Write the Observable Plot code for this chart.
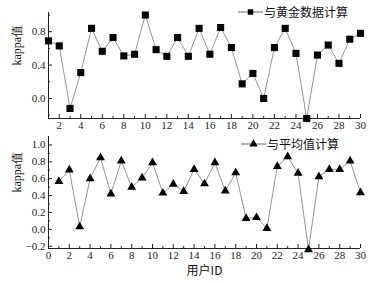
<!DOCTYPE html>
<html>
<head>
<meta charset="utf-8">
<script src="https://cdn.jsdelivr.net/npm/d3@7"></script>
<script src="https://cdn.jsdelivr.net/npm/@observablehq/plot@0.6"></script>
<style>
  html, body { margin: 0; padding: 0; background: #fff; }
  #wrap { position: relative; width: 382px; height: 283px; overflow: hidden; }
  #wrap > div > svg { display: block; }
  .legend { position: absolute; font-family: "Noto Sans CJK SC", sans-serif; font-size: 12px; color: #111; white-space: nowrap; line-height: 14px; height: 14px; display: flex; align-items: center; }
  .legend svg { display: inline-block; margin-right: 1px; }
</style>
</head>
<body>
<div id="wrap">
  <div id="top"></div>
  <div id="bottom"></div>
  <div class="legend" id="leg1" style="left:238px; top:5px;"></div>
  <div class="legend" id="leg2" style="left:241px; top:137px;"></div>
</div>
<script>
// ---- data ----
const userIds = d3.range(1, 31);
const goldKappa = [0.69, 0.63, -0.12, 0.31, 0.84, 0.565, 0.73, 0.51, 0.53, 1.0,
                   0.585, 0.505, 0.73, 0.505, 0.84, 0.53, 0.85, 0.61, 0.175, 0.30,
                   0.0, 0.61, 0.84, 0.54, -0.24, 0.52, 0.64, 0.42, 0.71, 0.78];
const meanKappa = [0.567, 0.705, 0.03, 0.60, 0.85, 0.42, 0.81, 0.50, 0.61, 0.79,
                   0.43, 0.535, 0.45, 0.71, 0.54, 0.79, 0.455, 0.67, 0.13, 0.14,
                   0.01, 0.745, 0.86, 0.665, -0.24, 0.625, 0.71, 0.71, 0.81, 0.435];
const seriesNames = ["与黄金数据计算", "与平均值计算"];
const yLabel = "kappa值";
const xTitle = "用户ID";
const topXMajor = d3.range(2, 31, 2);
const topXMinor = d3.range(1, 30, 2);
const topYMajor = [0.0, 0.4, 0.8];
const topYMinor = [-0.2, 0.2, 0.6, 1.0];
const botXMajor = d3.range(0, 31, 2);
const botXMinor = d3.range(1, 30, 2);
const botYMajor = [-0.2, 0.0, 0.2, 0.4, 0.6, 0.8, 1.0];
const botYMinor = [-0.1, 0.1, 0.3, 0.5, 0.7, 0.9];

const topData = userIds.map((id, i) => ({id, v: goldKappa[i]}));
const botData = userIds.map((id, i) => ({id, v: meanKappa[i]}));

const serif = "'Liberation Serif', 'Times New Roman', serif";
const lineColor = "#777";

function panel({data, height, marginTop, marginBottom, xDomain, yDomain, xMajor, xMinor, yMajor, yMinor, symbol, r, xLabel}) {
  const fmtY = d => d.toFixed(1).replace("-", "\u2212");
  const marks = [
    Plot.ruleX([xDomain[0]], {stroke: "#222", strokeWidth: 1}),
    Plot.ruleY([yDomain[0]], {stroke: "#222", strokeWidth: 1}),
    Plot.axisX(xMajor, {tickSize: -4, tickPadding: 7, fontSize: 11, fontFamily: serif, fill: "#222", stroke: "#222", label: null}),
    Plot.axisX(xMinor, {tickSize: -2, tickFormat: () => "", label: null, stroke: "#222"}),
    Plot.axisY(yMajor, {tickSize: -4, tickPadding: 7, tickFormat: fmtY, fontSize: 11, fontFamily: serif, fill: "#222", stroke: "#222", label: null}),
    Plot.axisY(yMinor, {tickSize: -2, tickFormat: () => "", label: null, stroke: "#222"}),
    Plot.line(data, {x: "id", y: "v", stroke: lineColor, strokeWidth: 0.8}),
    Plot.dot(data, {x: "id", y: "v", symbol, r, fill: "#000", stroke: "none"}),
    Plot.text([yLabel], {frameAnchor: "left", dx: -31, rotate: -90, fontSize: 12, fontFamily: serif, fill: "#111", text: d => d})
  ];
  if (xLabel) {
    marks.push(Plot.text([xLabel], {frameAnchor: "bottom", dy: 26, fontSize: 12, fontFamily: "'Noto Sans CJK SC', sans-serif", fill: "#111", text: d => d}));
  }
  return Plot.plot({
    width: 382,
    height,
    marginLeft: 48,
    marginRight: 22,
    marginTop,
    marginBottom,
    style: {background: "transparent", overflow: "visible"},
    x: {domain: xDomain},
    y: {domain: yDomain},
    marks
  });
}

document.getElementById("top").appendChild(panel({
  data: topData, height: 133, marginTop: 12, marginBottom: 15,
  xDomain: [1, 30], yDomain: [-0.24, 1.03],
  xMajor: topXMajor, xMinor: topXMinor, yMajor: topYMajor, yMinor: topYMinor,
  symbol: "square", r: 4
}));
document.getElementById("bottom").appendChild(panel({
  data: botData, height: 150, marginTop: 3, marginBottom: 35,
  xDomain: [0, 30], yDomain: [-0.227, 1.1],
  xMajor: botXMajor, xMinor: botXMinor, yMajor: botYMajor, yMinor: botYMinor,
  symbol: "triangle", r: 3.3, xLabel: xTitle
}));

function legendKey(symbolType) {
  const ns = "http://www.w3.org/2000/svg";
  const svg = document.createElementNS(ns, "svg");
  svg.setAttribute("width", 25);
  svg.setAttribute("height", 10);
  const line = document.createElementNS(ns, "line");
  line.setAttribute("x1", 0); line.setAttribute("x2", 25);
  line.setAttribute("y1", 5); line.setAttribute("y2", 5);
  line.setAttribute("stroke", "#444"); line.setAttribute("stroke-width", 0.8);
  svg.appendChild(line);
  const path = document.createElementNS(ns, "path");
  path.setAttribute("d", d3.symbol(symbolType, 30)());
  path.setAttribute("transform", "translate(12.5,5)");
  path.setAttribute("fill", "#000");
  svg.appendChild(path);
  return svg;
}
const leg1 = document.getElementById("leg1");
leg1.appendChild(legendKey(d3.symbolSquare));
leg1.appendChild(document.createTextNode(seriesNames[0]));
const leg2 = document.getElementById("leg2");
leg2.appendChild(legendKey(d3.symbolTriangle));
leg2.appendChild(document.createTextNode(seriesNames[1]));
</script>
</body>
</html>
